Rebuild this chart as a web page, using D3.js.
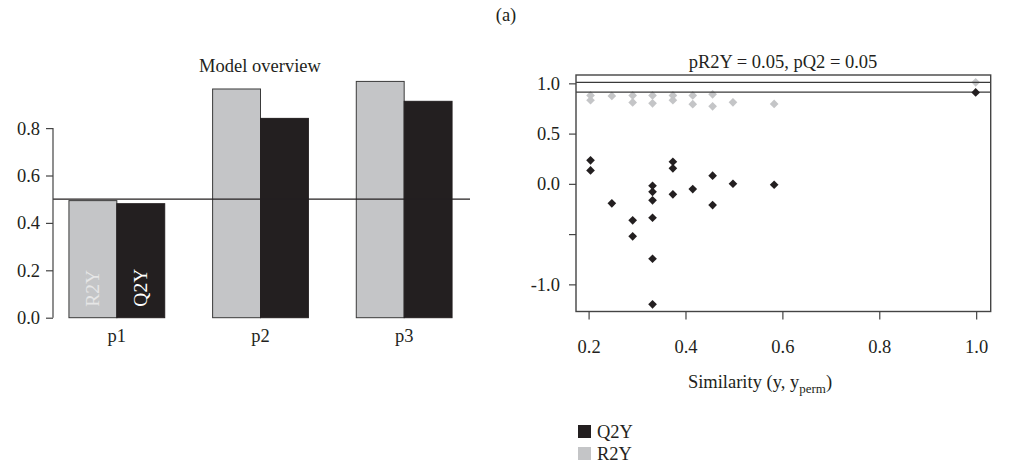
<!DOCTYPE html>
<html>
<head>
<meta charset="utf-8">
<script src="https://cdn.jsdelivr.net/npm/d3@7"></script>
<style>
  html, body { margin: 0; padding: 0; background: #fff; }
  svg { display: block; }
  text { font-family: "Liberation Serif", "DejaVu Serif", serif; fill: #231f20; }
</style>
</head>
<body>
<svg id="chart" width="1013" height="469"></svg>
<script>
// ---- Model overview (bar chart) ----
const models = ["p1", "p2", "p3"];
const r2yModel = [0.494, 0.965, 0.997];
const q2yModel = [0.481, 0.841, 0.913];
const overviewTicks = [0, 0.2, 0.4, 0.6, 0.8];
const overviewThreshold = 0.5;

// ---- Permutation test (scatter) ----
const r2ySim = [0.204, 0.204, 0.248, 0.291, 0.291, 0.332, 0.332, 0.374, 0.374, 0.415, 0.415, 0.456, 0.456, 0.498, 0.583, 0.999];
const r2yPerm = [0.880, 0.832, 0.875, 0.880, 0.810, 0.880, 0.801, 0.880, 0.833, 0.880, 0.793, 0.891, 0.771, 0.811, 0.795, 1.010];
const q2ySim = [0.204, 0.204, 0.248, 0.291, 0.291, 0.332, 0.332, 0.332, 0.332, 0.332, 0.332, 0.374, 0.374, 0.374, 0.415, 0.456, 0.456, 0.498, 0.583, 0.999];
const q2yPerm = [0.234, 0.134, -0.194, -0.363, -0.522, -0.019, -0.079, -0.164, -0.337, -0.745, -1.199, 0.220, 0.154, -0.104, -0.052, 0.081, -0.211, 0.001, -0.009, 0.910];
const modelR2Y = 1.010;
const modelQ2Y = 0.912;
const permXTicks = [0.2, 0.4, 0.6, 0.8, 1.0];
const permYTicks = [1.0, 0.5, 0.0, -0.5, -1.0];
const permYLabels = ["1.0", "0.5", "0.0", "", "-1.0"];
const legendItems = ["Q2Y", "R2Y"];

const GREY = "#c4c5c7";
const BLACK = "#231f20";
const FONT = 18.5;

const svg = d3.select("#chart");

svg.append("text").attr("x", 506).attr("y", 21).attr("text-anchor", "middle")
  .attr("font-size", FONT).text("(a)");

// ===== Left panel =====
const left = svg.append("g");
const xBand = d3.scaleBand().domain(models).range([45, 476]).paddingInner(1 / 3).paddingOuter(1 / 6);
const xInner = d3.scaleBand().domain(["R2Y", "Q2Y"]).range([0, xBand.bandwidth()]);
const yBar = d3.scaleLinear().domain([0, 1]).range([317.7, 80.7]);

left.append("text").attr("x", 260).attr("y", 72).attr("text-anchor", "middle")
  .attr("font-size", FONT).text("Model overview");

const groups = left.selectAll("g.grp").data(models).join("g")
  .attr("transform", d => `translate(${xBand(d)},0)`);

groups.append("rect")
  .attr("x", xInner("R2Y")).attr("width", xInner.bandwidth())
  .attr("y", (d, i) => yBar(r2yModel[i]))
  .attr("height", (d, i) => yBar(0) - yBar(r2yModel[i]))
  .attr("fill", GREY).attr("stroke", "#3a3a3a").attr("stroke-width", 1);
groups.append("rect")
  .attr("x", xInner("Q2Y")).attr("width", xInner.bandwidth())
  .attr("y", (d, i) => yBar(q2yModel[i]))
  .attr("height", (d, i) => yBar(0) - yBar(q2yModel[i]))
  .attr("fill", BLACK).attr("stroke", BLACK).attr("stroke-width", 1);

// rotated series names inside the first group
const g0 = xBand(models[0]);
[["R2Y", "#e6e6e6"], ["Q2Y", "#ffffff"]].forEach(([name, col]) => {
  const cx = g0 + xInner(name) + xInner.bandwidth() / 2;
  left.append("text")
    .attr("transform", `translate(${cx + 6},${yBar(0) - 11}) rotate(-90)`)
    .attr("font-size", FONT + 1).style("fill", col).text(name);
});

// threshold line
left.append("line")
  .attr("x1", 53).attr("x2", 470)
  .attr("y1", yBar(overviewThreshold)).attr("y2", yBar(overviewThreshold))
  .attr("stroke", BLACK).attr("stroke-width", 1.2);

// y axis
const yAxisL = left.append("g").attr("transform", "translate(53,0)")
  .call(d3.axisLeft(yBar).tickValues(overviewTicks).tickFormat(d3.format(".1f")).tickSize(7).tickPadding(6));
yAxisL.select(".domain").remove();
yAxisL.append("line").attr("x1", 0).attr("x2", 0)
  .attr("y1", yBar(overviewTicks[0])).attr("y2", yBar(overviewTicks[overviewTicks.length - 1]))
  .attr("stroke", "#444").attr("stroke-width", 1.2);
yAxisL.selectAll(".tick line").attr("stroke", "#444").attr("stroke-width", 1.2);
yAxisL.selectAll("text").attr("font-size", FONT).attr("font-family", "Liberation Serif").style("fill", BLACK);

// category labels
left.selectAll("text.cat").data(models).join("text").attr("class", "cat")
  .attr("x", d => xBand(d) + xBand.bandwidth() / 2).attr("y", 342)
  .attr("text-anchor", "middle").attr("font-size", FONT).text(d => d);

// ===== Right panel =====
const right = svg.append("g");
const xP = d3.scaleLinear().domain([0.174, 1.030]).range([576, 990.7]);
const yP = d3.scaleLinear().domain([-1.27, 1.083]).range([311.5, 75]);

right.append("text").attr("x", 783).attr("y", 68).attr("text-anchor", "middle")
  .attr("font-size", FONT).text("pR2Y = 0.05, pQ2 = 0.05");

const diamond = d3.symbol().type(d3.symbolDiamond2).size(48);

right.selectAll("path.r2y").data(r2ySim).join("path").attr("class", "r2y")
  .attr("d", diamond)
  .attr("transform", (d, i) => `translate(${xP(d)},${yP(r2yPerm[i])})`)
  .attr("fill", GREY);

// reference lines at the model's own values
[modelR2Y, modelQ2Y].forEach(v => {
  right.append("line").attr("x1", xP.range()[0]).attr("x2", xP.range()[1])
    .attr("y1", yP(v)).attr("y2", yP(v)).attr("stroke", "#3a3a3a").attr("stroke-width", 1.2);
});

right.selectAll("path.q2y").data(q2ySim).join("path").attr("class", "q2y")
  .attr("d", diamond)
  .attr("transform", (d, i) => `translate(${xP(d)},${yP(q2yPerm[i])})`)
  .attr("fill", BLACK);

// frame
right.append("rect")
  .attr("x", xP.range()[0]).attr("y", yP.range()[1])
  .attr("width", xP.range()[1] - xP.range()[0]).attr("height", yP.range()[0] - yP.range()[1])
  .attr("fill", "none").attr("stroke", "#444").attr("stroke-width", 1.4);

const xAxisR = right.append("g").attr("transform", `translate(0,${yP.range()[0]})`)
  .call(d3.axisBottom(xP).tickValues(permXTicks).tickFormat(d3.format(".1f")).tickSize(8).tickPadding(20));
xAxisR.select(".domain").remove();
xAxisR.selectAll(".tick line").attr("stroke", "#444").attr("stroke-width", 1.2);
xAxisR.selectAll("text").attr("font-size", FONT).attr("font-family", "Liberation Serif").style("fill", BLACK);

const yAxisR = right.append("g").attr("transform", `translate(${xP.range()[0]},0)`)
  .call(d3.axisLeft(yP).tickValues(permYTicks).tickFormat((d, i) => permYLabels[i]).tickSize(7).tickPadding(9));
yAxisR.select(".domain").remove();
yAxisR.selectAll(".tick line").attr("stroke", "#444").attr("stroke-width", 1.2);
yAxisR.selectAll("text").attr("font-size", FONT).attr("font-family", "Liberation Serif").style("fill", BLACK);

// x axis title with subscript
const xt = right.append("text").attr("x", 760).attr("y", 388).attr("text-anchor", "middle").attr("font-size", FONT);
xt.append("tspan").text("Similarity (y, y");
xt.append("tspan").attr("font-size", 13).attr("dy", 5).text("perm");
xt.append("tspan").attr("dy", -5).text(")");

// legend
const lg = right.selectAll("g.lg").data(legendItems).join("g").attr("class", "lg")
  .attr("transform", (d, i) => `translate(578,${425 + i * 22})`);
lg.append("rect").attr("width", 13).attr("height", 13)
  .attr("fill", d => d === "Q2Y" ? BLACK : GREY);
lg.append("text").attr("x", 19).attr("y", 12.5).attr("font-size", FONT).text(d => d);
</script>
</body>
</html>
